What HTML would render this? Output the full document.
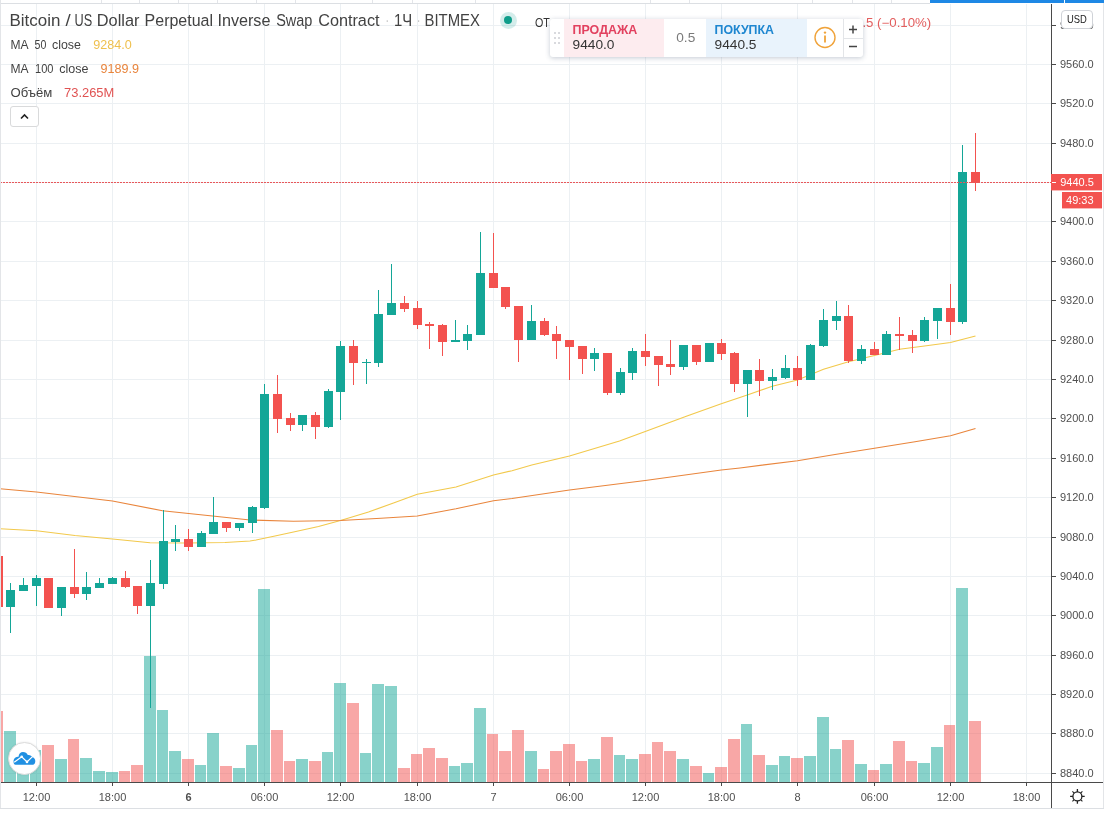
<!DOCTYPE html>
<html lang="ru"><head><meta charset="utf-8"><title>BTCUSD chart</title>
<style>
html,body{margin:0;padding:0;background:#fff;}
body{width:1104px;height:815px;position:relative;overflow:hidden;font-family:"Liberation Sans",sans-serif;color:#4a4a4a;}
svg{position:absolute;left:0;top:0;}
svg text{font-family:"Liberation Sans",sans-serif;}
.abs{position:absolute;white-space:nowrap;}
#topline{left:0;top:3px;width:930px;height:1px;background:#dcdfe3;}
#leftline{left:0;top:0;width:1px;height:809px;background:#e3e5e8;}
#rightline{left:1103px;top:3px;width:1px;height:806px;background:#e3e5e8;}
#bottomline{left:0;top:808px;width:1104px;height:1px;background:#dcdfe3;}
.sep{top:0;width:1px;height:3px;background:#e3e5e9;}
#blue1{left:930px;top:0;width:134px;height:3px;background:#1e88e5;}
#blue2{left:1065px;top:0;width:39px;height:3px;background:#1e88e5;}
#collapse{left:10px;top:106px;width:27px;height:19px;border:1px solid #d9dadb;border-radius:3px;background:#fff;}
#usd{left:1061px;top:10px;width:29.5px;height:16.5px;border:1px solid #d0d3d8;border-radius:4px;background:#fff;}
#dot{left:499.5px;top:11.5px;width:17px;height:17px;border-radius:50%;background:rgba(38,166,154,0.2);}
#dot i{position:absolute;left:4.5px;top:4.5px;width:8px;height:8px;border-radius:50%;background:#0f9d8a;}
#panel{left:550px;top:18.5px;width:313px;height:38px;background:#fff;border-radius:3px;box-shadow:0 1px 5px rgba(60,80,110,0.3);overflow:hidden;}
#sell{left:14px;top:0;width:100px;height:38px;background:#fdecef;}
#buy{left:156px;top:0;width:101px;height:38px;background:#e9f3fc;}
#vsep{left:293px;top:0;width:1px;height:38px;background:#e3e5e8;}
#hsep{left:293px;top:19px;width:20px;height:1px;background:#e3e5e8;}
#logo{left:8px;top:742px;width:31px;height:31px;border-radius:50%;background:#fff;border:1px solid #dcdcdc;box-shadow:0 0 2px rgba(0,0,0,0.1);}
</style></head><body>
<svg id="chart" width="1104" height="815" viewBox="0 0 1104 815" shape-rendering="crispEdges">
<g fill="#ecf0f3">
<rect x="0" y="25" width="1051" height="1"/>
<rect x="0" y="64" width="1051" height="1"/>
<rect x="0" y="103" width="1051" height="1"/>
<rect x="0" y="143" width="1051" height="1"/>
<rect x="0" y="182" width="1051" height="1"/>
<rect x="0" y="221" width="1051" height="1"/>
<rect x="0" y="261" width="1051" height="1"/>
<rect x="0" y="300" width="1051" height="1"/>
<rect x="0" y="340" width="1051" height="1"/>
<rect x="0" y="379" width="1051" height="1"/>
<rect x="0" y="418" width="1051" height="1"/>
<rect x="0" y="458" width="1051" height="1"/>
<rect x="0" y="497" width="1051" height="1"/>
<rect x="0" y="537" width="1051" height="1"/>
<rect x="0" y="576" width="1051" height="1"/>
<rect x="0" y="615" width="1051" height="1"/>
<rect x="0" y="655" width="1051" height="1"/>
<rect x="0" y="694" width="1051" height="1"/>
<rect x="0" y="733" width="1051" height="1"/>
<rect x="0" y="773" width="1051" height="1"/>
<rect x="36" y="4" width="1" height="778"/>
<rect x="112" y="4" width="1" height="778"/>
<rect x="188" y="4" width="1" height="778"/>
<rect x="264" y="4" width="1" height="778"/>
<rect x="340" y="4" width="1" height="778"/>
<rect x="417" y="4" width="1" height="778"/>
<rect x="493" y="4" width="1" height="778"/>
<rect x="569" y="4" width="1" height="778"/>
<rect x="645" y="4" width="1" height="778"/>
<rect x="721" y="4" width="1" height="778"/>
<rect x="797" y="4" width="1" height="778"/>
<rect x="874" y="4" width="1" height="778"/>
<rect x="950" y="4" width="1" height="778"/>
<rect x="1026" y="4" width="1" height="778"/>
</g>
<g opacity="0.5">
<rect x="0" y="711" width="3" height="71" fill="#f3524f"/>
<rect x="4" y="731" width="12" height="51" fill="#14a697"/>
<rect x="17" y="755" width="12" height="27" fill="#14a697"/>
<rect x="30" y="750" width="11" height="32" fill="#14a697"/>
<rect x="42" y="745" width="12" height="37" fill="#f3524f"/>
<rect x="55" y="759" width="12" height="23" fill="#14a697"/>
<rect x="68" y="739" width="11" height="43" fill="#f3524f"/>
<rect x="80" y="758" width="12" height="24" fill="#14a697"/>
<rect x="93" y="771" width="12" height="11" fill="#14a697"/>
<rect x="106" y="772" width="12" height="10" fill="#14a697"/>
<rect x="119" y="771" width="11" height="11" fill="#f3524f"/>
<rect x="131" y="765" width="12" height="17" fill="#f3524f"/>
<rect x="144" y="656" width="12" height="126" fill="#14a697"/>
<rect x="157" y="710" width="11" height="72" fill="#14a697"/>
<rect x="169" y="751" width="12" height="31" fill="#14a697"/>
<rect x="182" y="759" width="12" height="23" fill="#f3524f"/>
<rect x="195" y="765" width="11" height="17" fill="#14a697"/>
<rect x="207" y="733" width="12" height="49" fill="#14a697"/>
<rect x="220" y="766" width="12" height="16" fill="#f3524f"/>
<rect x="233" y="768" width="12" height="14" fill="#14a697"/>
<rect x="246" y="745" width="11" height="37" fill="#14a697"/>
<rect x="258" y="589" width="12" height="193" fill="#14a697"/>
<rect x="271" y="730" width="12" height="52" fill="#f3524f"/>
<rect x="284" y="761" width="11" height="21" fill="#f3524f"/>
<rect x="296" y="759" width="12" height="23" fill="#14a697"/>
<rect x="309" y="761" width="12" height="21" fill="#f3524f"/>
<rect x="322" y="752" width="11" height="30" fill="#14a697"/>
<rect x="334" y="683" width="12" height="99" fill="#14a697"/>
<rect x="347" y="703" width="12" height="79" fill="#f3524f"/>
<rect x="360" y="753" width="11" height="29" fill="#14a697"/>
<rect x="372" y="684" width="12" height="98" fill="#14a697"/>
<rect x="385" y="686" width="12" height="96" fill="#14a697"/>
<rect x="398" y="768" width="12" height="14" fill="#f3524f"/>
<rect x="411" y="754" width="11" height="28" fill="#f3524f"/>
<rect x="423" y="748" width="12" height="34" fill="#f3524f"/>
<rect x="436" y="758" width="12" height="24" fill="#f3524f"/>
<rect x="449" y="766" width="11" height="16" fill="#14a697"/>
<rect x="461" y="763" width="12" height="19" fill="#14a697"/>
<rect x="474" y="708" width="12" height="74" fill="#14a697"/>
<rect x="487" y="734" width="11" height="48" fill="#f3524f"/>
<rect x="499" y="751" width="12" height="31" fill="#f3524f"/>
<rect x="512" y="730" width="12" height="52" fill="#f3524f"/>
<rect x="525" y="751" width="12" height="31" fill="#14a697"/>
<rect x="538" y="769" width="11" height="13" fill="#f3524f"/>
<rect x="550" y="751" width="12" height="31" fill="#f3524f"/>
<rect x="563" y="744" width="12" height="38" fill="#f3524f"/>
<rect x="576" y="761" width="11" height="21" fill="#f3524f"/>
<rect x="588" y="759" width="12" height="23" fill="#14a697"/>
<rect x="601" y="737" width="12" height="45" fill="#f3524f"/>
<rect x="614" y="755" width="11" height="27" fill="#14a697"/>
<rect x="626" y="759" width="12" height="23" fill="#14a697"/>
<rect x="639" y="754" width="12" height="28" fill="#f3524f"/>
<rect x="652" y="742" width="11" height="40" fill="#f3524f"/>
<rect x="664" y="751" width="12" height="31" fill="#f3524f"/>
<rect x="677" y="759" width="12" height="23" fill="#14a697"/>
<rect x="690" y="766" width="12" height="16" fill="#f3524f"/>
<rect x="703" y="773" width="11" height="9" fill="#14a697"/>
<rect x="715" y="767" width="12" height="15" fill="#f3524f"/>
<rect x="728" y="739" width="12" height="43" fill="#f3524f"/>
<rect x="741" y="724" width="11" height="58" fill="#14a697"/>
<rect x="753" y="755" width="12" height="27" fill="#f3524f"/>
<rect x="766" y="765" width="12" height="17" fill="#14a697"/>
<rect x="779" y="756" width="11" height="26" fill="#14a697"/>
<rect x="791" y="758" width="12" height="24" fill="#f3524f"/>
<rect x="804" y="756" width="12" height="26" fill="#14a697"/>
<rect x="817" y="717" width="12" height="65" fill="#14a697"/>
<rect x="830" y="749" width="11" height="33" fill="#14a697"/>
<rect x="842" y="740" width="12" height="42" fill="#f3524f"/>
<rect x="855" y="764" width="12" height="18" fill="#14a697"/>
<rect x="868" y="770" width="11" height="12" fill="#f3524f"/>
<rect x="880" y="764" width="12" height="18" fill="#14a697"/>
<rect x="893" y="741" width="12" height="41" fill="#f3524f"/>
<rect x="906" y="761" width="11" height="21" fill="#f3524f"/>
<rect x="918" y="763" width="12" height="19" fill="#14a697"/>
<rect x="931" y="747" width="12" height="35" fill="#14a697"/>
<rect x="944" y="725" width="11" height="57" fill="#f3524f"/>
<rect x="956" y="588" width="12" height="194" fill="#14a697"/>
<rect x="969" y="721" width="12" height="61" fill="#f3524f"/>
</g>
<path d="M0,528.75 L36.5,530.75 L75,535.5 L112.5,539 L150,542.75 L187.5,543 L225,542.5 L250,541 L256,540 L275,536 L293.5,532 L318.5,526.5 L340.5,520.5 L368.5,512 L393.5,503 L417.25,494.25 L456,487 L493.5,475 L512,470.75 L531.75,465 L569.5,456 L619.5,441 L645.25,431.5 L687,416 L721.25,403.75 L747.25,395 L772.25,386.25 L797.5,380 L823.5,369.25 L848.5,361.75 L874.5,355.5 L899.5,349.25 L924.5,346 L950.5,342.5 L975.5,336" fill="none" stroke="#f2c94c" stroke-width="1.2" shape-rendering="auto"/>
<path d="M0,488.75 L36.5,492 L112.5,501 L162.5,510.75 L212.5,516 L250,520 L293.5,521.25 L340.5,520.5 L381,518.25 L417.25,516 L456,508.75 L493.5,500.75 L512,498.5 L569.5,490 L645.25,480.5 L721.25,470 L740,468 L797.5,460.75 L835,454.5 L874.5,448.25 L915,441.75 L950.5,435.75 L975.5,428.5" fill="none" stroke="#e9853c" stroke-width="1.2" shape-rendering="auto"/>
<rect x="-2" y="556" width="1" height="51" fill="#f3524f"/>
<rect x="0" y="556" width="3" height="51" fill="#f3524f"/>
<rect x="10" y="583" width="1" height="50" fill="#14a697"/>
<rect x="6" y="590" width="9" height="17" fill="#14a697"/>
<rect x="23" y="578" width="1" height="13" fill="#14a697"/>
<rect x="19" y="585" width="9" height="6" fill="#14a697"/>
<rect x="36" y="575" width="1" height="31" fill="#14a697"/>
<rect x="32" y="578" width="9" height="8" fill="#14a697"/>
<rect x="48" y="578" width="1" height="30" fill="#f3524f"/>
<rect x="44" y="578" width="9" height="30" fill="#f3524f"/>
<rect x="61" y="587" width="1" height="29" fill="#14a697"/>
<rect x="57" y="587" width="9" height="21" fill="#14a697"/>
<rect x="74" y="549" width="1" height="49" fill="#f3524f"/>
<rect x="70" y="587" width="9" height="7" fill="#f3524f"/>
<rect x="86" y="572" width="1" height="28" fill="#14a697"/>
<rect x="82" y="587" width="9" height="7" fill="#14a697"/>
<rect x="99" y="578" width="1" height="10" fill="#14a697"/>
<rect x="95" y="583" width="9" height="5" fill="#14a697"/>
<rect x="112" y="577" width="1" height="7" fill="#14a697"/>
<rect x="108" y="578" width="9" height="6" fill="#14a697"/>
<rect x="125" y="571" width="1" height="17" fill="#f3524f"/>
<rect x="121" y="578" width="9" height="9" fill="#f3524f"/>
<rect x="137" y="586" width="1" height="28" fill="#f3524f"/>
<rect x="133" y="586" width="9" height="20" fill="#f3524f"/>
<rect x="150" y="560" width="1" height="148" fill="#14a697"/>
<rect x="146" y="583" width="9" height="23" fill="#14a697"/>
<rect x="163" y="510" width="1" height="79" fill="#14a697"/>
<rect x="159" y="541" width="9" height="43" fill="#14a697"/>
<rect x="175" y="525" width="1" height="26" fill="#14a697"/>
<rect x="171" y="539" width="9" height="3" fill="#14a697"/>
<rect x="188" y="529" width="1" height="22" fill="#f3524f"/>
<rect x="184" y="539" width="9" height="8" fill="#f3524f"/>
<rect x="201" y="531" width="1" height="16" fill="#14a697"/>
<rect x="197" y="533" width="9" height="14" fill="#14a697"/>
<rect x="213" y="497" width="1" height="37" fill="#14a697"/>
<rect x="209" y="522" width="9" height="12" fill="#14a697"/>
<rect x="226" y="522" width="1" height="10" fill="#f3524f"/>
<rect x="222" y="522" width="9" height="6" fill="#f3524f"/>
<rect x="239" y="523" width="1" height="8" fill="#14a697"/>
<rect x="235" y="523" width="9" height="5" fill="#14a697"/>
<rect x="252" y="506" width="1" height="27" fill="#14a697"/>
<rect x="248" y="507" width="9" height="16" fill="#14a697"/>
<rect x="264" y="384" width="1" height="125" fill="#14a697"/>
<rect x="260" y="394" width="9" height="114" fill="#14a697"/>
<rect x="277" y="375" width="1" height="58" fill="#f3524f"/>
<rect x="273" y="394" width="9" height="25" fill="#f3524f"/>
<rect x="290" y="413" width="1" height="18" fill="#f3524f"/>
<rect x="286" y="418" width="9" height="7" fill="#f3524f"/>
<rect x="302" y="415" width="1" height="16" fill="#14a697"/>
<rect x="298" y="415" width="9" height="10" fill="#14a697"/>
<rect x="315" y="412" width="1" height="27" fill="#f3524f"/>
<rect x="311" y="415" width="9" height="12" fill="#f3524f"/>
<rect x="328" y="389" width="1" height="39" fill="#14a697"/>
<rect x="324" y="391" width="9" height="36" fill="#14a697"/>
<rect x="340" y="341" width="1" height="79" fill="#14a697"/>
<rect x="336" y="346" width="9" height="46" fill="#14a697"/>
<rect x="353" y="340" width="1" height="45" fill="#f3524f"/>
<rect x="349" y="346" width="9" height="17" fill="#f3524f"/>
<rect x="366" y="359" width="1" height="25" fill="#14a697"/>
<rect x="362" y="362" width="9" height="1" fill="#14a697"/>
<rect x="378" y="290" width="1" height="77" fill="#14a697"/>
<rect x="374" y="314" width="9" height="49" fill="#14a697"/>
<rect x="391" y="264" width="1" height="51" fill="#14a697"/>
<rect x="387" y="303" width="9" height="12" fill="#14a697"/>
<rect x="404" y="296" width="1" height="16" fill="#f3524f"/>
<rect x="400" y="303" width="9" height="6" fill="#f3524f"/>
<rect x="417" y="301" width="1" height="28" fill="#f3524f"/>
<rect x="413" y="308" width="9" height="17" fill="#f3524f"/>
<rect x="429" y="322" width="1" height="27" fill="#f3524f"/>
<rect x="425" y="324" width="9" height="2" fill="#f3524f"/>
<rect x="442" y="324" width="1" height="32" fill="#f3524f"/>
<rect x="438" y="325" width="9" height="17" fill="#f3524f"/>
<rect x="455" y="320" width="1" height="22" fill="#14a697"/>
<rect x="451" y="340" width="9" height="2" fill="#14a697"/>
<rect x="467" y="325" width="1" height="25" fill="#14a697"/>
<rect x="463" y="334" width="9" height="7" fill="#14a697"/>
<rect x="480" y="232" width="1" height="103" fill="#14a697"/>
<rect x="476" y="273" width="9" height="62" fill="#14a697"/>
<rect x="493" y="233" width="1" height="55" fill="#f3524f"/>
<rect x="489" y="273" width="9" height="15" fill="#f3524f"/>
<rect x="505" y="287" width="1" height="22" fill="#f3524f"/>
<rect x="501" y="287" width="9" height="20" fill="#f3524f"/>
<rect x="518" y="306" width="1" height="56" fill="#f3524f"/>
<rect x="514" y="306" width="9" height="34" fill="#f3524f"/>
<rect x="531" y="305" width="1" height="35" fill="#14a697"/>
<rect x="527" y="321" width="9" height="19" fill="#14a697"/>
<rect x="544" y="318" width="1" height="18" fill="#f3524f"/>
<rect x="540" y="321" width="9" height="14" fill="#f3524f"/>
<rect x="556" y="326" width="1" height="33" fill="#f3524f"/>
<rect x="552" y="334" width="9" height="7" fill="#f3524f"/>
<rect x="569" y="340" width="1" height="40" fill="#f3524f"/>
<rect x="565" y="340" width="9" height="7" fill="#f3524f"/>
<rect x="582" y="346" width="1" height="28" fill="#f3524f"/>
<rect x="578" y="346" width="9" height="13" fill="#f3524f"/>
<rect x="594" y="348" width="1" height="23" fill="#14a697"/>
<rect x="590" y="353" width="9" height="6" fill="#14a697"/>
<rect x="607" y="353" width="1" height="42" fill="#f3524f"/>
<rect x="603" y="353" width="9" height="40" fill="#f3524f"/>
<rect x="620" y="368" width="1" height="27" fill="#14a697"/>
<rect x="616" y="372" width="9" height="21" fill="#14a697"/>
<rect x="632" y="348" width="1" height="32" fill="#14a697"/>
<rect x="628" y="351" width="9" height="22" fill="#14a697"/>
<rect x="645" y="334" width="1" height="32" fill="#f3524f"/>
<rect x="641" y="351" width="9" height="6" fill="#f3524f"/>
<rect x="658" y="356" width="1" height="30" fill="#f3524f"/>
<rect x="654" y="356" width="9" height="9" fill="#f3524f"/>
<rect x="670" y="340" width="1" height="35" fill="#f3524f"/>
<rect x="666" y="364" width="9" height="3" fill="#f3524f"/>
<rect x="683" y="345" width="1" height="25" fill="#14a697"/>
<rect x="679" y="345" width="9" height="22" fill="#14a697"/>
<rect x="696" y="345" width="1" height="20" fill="#f3524f"/>
<rect x="692" y="345" width="9" height="17" fill="#f3524f"/>
<rect x="709" y="343" width="1" height="19" fill="#14a697"/>
<rect x="705" y="343" width="9" height="19" fill="#14a697"/>
<rect x="721" y="339" width="1" height="21" fill="#f3524f"/>
<rect x="717" y="343" width="9" height="11" fill="#f3524f"/>
<rect x="734" y="352" width="1" height="40" fill="#f3524f"/>
<rect x="730" y="353" width="9" height="31" fill="#f3524f"/>
<rect x="747" y="370" width="1" height="47" fill="#14a697"/>
<rect x="743" y="370" width="9" height="14" fill="#14a697"/>
<rect x="759" y="359" width="1" height="37" fill="#f3524f"/>
<rect x="755" y="370" width="9" height="11" fill="#f3524f"/>
<rect x="772" y="369" width="1" height="21" fill="#14a697"/>
<rect x="768" y="377" width="9" height="4" fill="#14a697"/>
<rect x="785" y="355" width="1" height="24" fill="#14a697"/>
<rect x="781" y="368" width="9" height="10" fill="#14a697"/>
<rect x="797" y="356" width="1" height="30" fill="#f3524f"/>
<rect x="793" y="368" width="9" height="12" fill="#f3524f"/>
<rect x="810" y="344" width="1" height="36" fill="#14a697"/>
<rect x="806" y="345" width="9" height="35" fill="#14a697"/>
<rect x="823" y="309" width="1" height="38" fill="#14a697"/>
<rect x="819" y="320" width="9" height="26" fill="#14a697"/>
<rect x="836" y="301" width="1" height="29" fill="#14a697"/>
<rect x="832" y="316" width="9" height="5" fill="#14a697"/>
<rect x="848" y="305" width="1" height="58" fill="#f3524f"/>
<rect x="844" y="316" width="9" height="45" fill="#f3524f"/>
<rect x="861" y="345" width="1" height="19" fill="#14a697"/>
<rect x="857" y="349" width="9" height="12" fill="#14a697"/>
<rect x="874" y="342" width="1" height="13" fill="#f3524f"/>
<rect x="870" y="349" width="9" height="6" fill="#f3524f"/>
<rect x="886" y="331" width="1" height="24" fill="#14a697"/>
<rect x="882" y="334" width="9" height="21" fill="#14a697"/>
<rect x="899" y="317" width="1" height="33" fill="#f3524f"/>
<rect x="895" y="334" width="9" height="2" fill="#f3524f"/>
<rect x="912" y="330" width="1" height="23" fill="#f3524f"/>
<rect x="908" y="335" width="9" height="6" fill="#f3524f"/>
<rect x="924" y="317" width="1" height="25" fill="#14a697"/>
<rect x="920" y="320" width="9" height="21" fill="#14a697"/>
<rect x="937" y="308" width="1" height="31" fill="#14a697"/>
<rect x="933" y="308" width="9" height="13" fill="#14a697"/>
<rect x="950" y="284" width="1" height="51" fill="#f3524f"/>
<rect x="946" y="308" width="9" height="14" fill="#f3524f"/>
<rect x="962" y="145" width="1" height="179" fill="#14a697"/>
<rect x="958" y="172" width="9" height="150" fill="#14a697"/>
<rect x="975" y="133" width="1" height="58" fill="#f3524f"/>
<rect x="971" y="172" width="9" height="11" fill="#f3524f"/>
<line x1="0" y1="182.5" x2="1051" y2="182.5" stroke="#e8575a" stroke-width="1" stroke-dasharray="2,1"/>
<rect x="1051" y="4" width="1" height="804" fill="#4a4a4a"/>
<rect x="0" y="782" width="1104" height="1" fill="#4a4a4a"/>
<g fill="#4a4a4a">
<rect x="1052" y="25" width="4" height="1"/>
<rect x="1052" y="64" width="4" height="1"/>
<rect x="1052" y="103" width="4" height="1"/>
<rect x="1052" y="143" width="4" height="1"/>
<rect x="1052" y="182" width="4" height="1"/>
<rect x="1052" y="221" width="4" height="1"/>
<rect x="1052" y="261" width="4" height="1"/>
<rect x="1052" y="300" width="4" height="1"/>
<rect x="1052" y="340" width="4" height="1"/>
<rect x="1052" y="379" width="4" height="1"/>
<rect x="1052" y="418" width="4" height="1"/>
<rect x="1052" y="458" width="4" height="1"/>
<rect x="1052" y="497" width="4" height="1"/>
<rect x="1052" y="537" width="4" height="1"/>
<rect x="1052" y="576" width="4" height="1"/>
<rect x="1052" y="615" width="4" height="1"/>
<rect x="1052" y="655" width="4" height="1"/>
<rect x="1052" y="694" width="4" height="1"/>
<rect x="1052" y="733" width="4" height="1"/>
<rect x="1052" y="773" width="4" height="1"/>
<rect x="36" y="782" width="1" height="4"/>
<rect x="112" y="782" width="1" height="4"/>
<rect x="188" y="782" width="1" height="4"/>
<rect x="264" y="782" width="1" height="4"/>
<rect x="340" y="782" width="1" height="4"/>
<rect x="417" y="782" width="1" height="4"/>
<rect x="493" y="782" width="1" height="4"/>
<rect x="569" y="782" width="1" height="4"/>
<rect x="645" y="782" width="1" height="4"/>
<rect x="721" y="782" width="1" height="4"/>
<rect x="797" y="782" width="1" height="4"/>
<rect x="874" y="782" width="1" height="4"/>
<rect x="950" y="782" width="1" height="4"/>
<rect x="1026" y="782" width="1" height="4"/>
</g>
<g font-family="Liberation Sans, sans-serif" font-size="11" fill="#4f4f4f" shape-rendering="auto">
<text x="1060" y="29">9600.0</text>
<text x="1060" y="68">9560.0</text>
<text x="1060" y="107">9520.0</text>
<text x="1060" y="147">9480.0</text>
<text x="1060" y="225">9400.0</text>
<text x="1060" y="265">9360.0</text>
<text x="1060" y="304">9320.0</text>
<text x="1060" y="344">9280.0</text>
<text x="1060" y="383">9240.0</text>
<text x="1060" y="422">9200.0</text>
<text x="1060" y="462">9160.0</text>
<text x="1060" y="501">9120.0</text>
<text x="1060" y="541">9080.0</text>
<text x="1060" y="580">9040.0</text>
<text x="1060" y="619">9000.0</text>
<text x="1060" y="659">8960.0</text>
<text x="1060" y="698">8920.0</text>
<text x="1060" y="737">8880.0</text>
<text x="1060" y="777">8840.0</text>
<text x="36.5" y="801" text-anchor="middle">12:00</text>
<text x="112.5" y="801" text-anchor="middle">18:00</text>
<text x="188.5" y="801" text-anchor="middle" font-weight="bold">6</text>
<text x="264.5" y="801" text-anchor="middle">06:00</text>
<text x="340.5" y="801" text-anchor="middle">12:00</text>
<text x="417.5" y="801" text-anchor="middle">18:00</text>
<text x="493.5" y="801" text-anchor="middle">7</text>
<text x="569.5" y="801" text-anchor="middle">06:00</text>
<text x="645.5" y="801" text-anchor="middle">12:00</text>
<text x="721.5" y="801" text-anchor="middle">18:00</text>
<text x="797.5" y="801" text-anchor="middle">8</text>
<text x="874.5" y="801" text-anchor="middle">06:00</text>
<text x="950.5" y="801" text-anchor="middle">12:00</text>
<text x="1026.5" y="801" text-anchor="middle">18:00</text>
</g>
<rect x="1051" y="174" width="51" height="16.4" fill="#f3524f" shape-rendering="auto"/>
<rect x="1052" y="182" width="4" height="1" fill="#fff"/>
<rect x="1062" y="192" width="40" height="16.4" fill="#f3524f" shape-rendering="auto"/>
<g font-family="Liberation Sans, sans-serif" font-size="11" fill="#fff" shape-rendering="auto">
<text x="1060.2" y="185.8">9440.5</text>
<text x="1079.8" y="203.8" text-anchor="middle">49:33</text>
</g>
</svg>
<div class="abs" id="topline"></div><div class="abs" id="leftline"></div><div class="abs" id="rightline"></div><div class="abs" id="bottomline"></div>
<div class="abs sep" style="left:101px"></div><div class="abs sep" style="left:139px"></div><div class="abs sep" style="left:178px"></div><div class="abs sep" style="left:217px"></div><div class="abs sep" style="left:256px"></div><div class="abs sep" style="left:295px"></div><div class="abs sep" style="left:372px"></div><div class="abs sep" style="left:412px"></div><div class="abs sep" style="left:475px"></div><div class="abs sep" style="left:650px"></div><div class="abs sep" style="left:689px"></div><div class="abs sep" style="left:812px"></div><div class="abs sep" style="left:852px"></div><div class="abs sep" style="left:891px"></div>
<div class="abs" id="blue1"></div><div class="abs" id="blue2"></div>
<div class="abs" id="collapse"><svg width="27" height="19" viewBox="0 0 27 19"><path d="M10 11.5 L13.5 8 L17 11.5" fill="none" stroke="#222" stroke-width="1.6"/></svg></div>
<div class="abs" id="dot"><i></i></div>
<div class="abs" id="usd"></div>
<svg id="txt1" width="1104" height="140" viewBox="0 0 1104 140">
<text x="9.56" y="25.75" font-size="16.3" fill="#424242" textLength="50.84" lengthAdjust="spacingAndGlyphs">Bitcoin</text>
<text x="65.50" y="25.75" font-size="17" fill="#424242" textLength="5.20" lengthAdjust="spacingAndGlyphs">/</text>
<text x="74.62" y="25.75" font-size="16.3" fill="#424242" textLength="17.67" lengthAdjust="spacingAndGlyphs">US</text>
<text x="96.80" y="25.75" font-size="16.3" fill="#424242" textLength="42.62" lengthAdjust="spacingAndGlyphs">Dollar</text>
<text x="144.62" y="25.75" font-size="16.3" fill="#424242" textLength="68.39" lengthAdjust="spacingAndGlyphs">Perpetual</text>
<text x="217.41" y="25.75" font-size="16.3" fill="#424242" textLength="53.05" lengthAdjust="spacingAndGlyphs">Inverse</text>
<text x="276.20" y="25.75" font-size="16.3" fill="#424242" textLength="36.25" lengthAdjust="spacingAndGlyphs">Swap</text>
<text x="318.20" y="25.75" font-size="16.3" fill="#424242" textLength="61.33" lengthAdjust="spacingAndGlyphs">Contract</text>
<text x="385.67" y="25.75" font-size="16.3" fill="#b5b5b5" textLength="2.89" lengthAdjust="spacingAndGlyphs">·</text>
<text x="394.09" y="25.75" font-size="16.3" fill="#424242" textLength="18.19" lengthAdjust="spacingAndGlyphs">1Ч</text>
<text x="417.17" y="25.75" font-size="16.3" fill="#b5b5b5" textLength="2.89" lengthAdjust="spacingAndGlyphs">·</text>
<text x="424.49" y="25.75" font-size="16.3" fill="#424242" textLength="55.39" lengthAdjust="spacingAndGlyphs">BITMEX</text>
<text x="10.50" y="48.8" font-size="12.1" fill="#424242" textLength="18.07" lengthAdjust="spacingAndGlyphs">MA</text>
<text x="34.50" y="48.8" font-size="12.1" fill="#424242" textLength="11.76" lengthAdjust="spacingAndGlyphs">50</text>
<text x="52.00" y="48.8" font-size="12.1" fill="#424242" textLength="28.97" lengthAdjust="spacingAndGlyphs">close</text>
<text x="93.25" y="48.8" font-size="12.1" fill="#efc04e" textLength="38.47" lengthAdjust="spacingAndGlyphs">9284.0</text>
<text x="10.50" y="72.6" font-size="12.1" fill="#424242" textLength="18.07" lengthAdjust="spacingAndGlyphs">MA</text>
<text x="35.00" y="72.6" font-size="12.1" fill="#424242" textLength="18.50" lengthAdjust="spacingAndGlyphs">100</text>
<text x="59.25" y="72.6" font-size="12.1" fill="#424242" textLength="29.22" lengthAdjust="spacingAndGlyphs">close</text>
<text x="100.50" y="72.6" font-size="12.1" fill="#e8843c" textLength="38.47" lengthAdjust="spacingAndGlyphs">9189.9</text>
<text x="10.50" y="96.6" font-size="12.1" fill="#424242" textLength="41.84" lengthAdjust="spacingAndGlyphs">Объём</text>
<text x="64.00" y="96.6" font-size="12.1" fill="#e05353" textLength="50.33" lengthAdjust="spacingAndGlyphs">73.265M</text>
<text x="535.00" y="26.8" font-size="12" fill="#333" textLength="14.90" lengthAdjust="spacingAndGlyphs">ОТ</text>
<text x="862.40" y="27" font-size="12" fill="#e35d5d" textLength="68.85" lengthAdjust="spacingAndGlyphs">.5 (−0.10%)</text>
<text x="1066.90" y="22.75" font-size="10.8" fill="#222" textLength="19.82" lengthAdjust="spacingAndGlyphs">USD</text>
</svg>
<div class="abs" id="panel">
 <div class="abs" id="sell"></div>
 <div class="abs" id="buy"></div>
 <div class="abs" id="vsep"></div><div class="abs" id="hsep"></div>
 <svg id="txt2" style="left:-550px;top:-18.5px" width="1104" height="80" viewBox="0 0 1104 80">
 <g fill="#cdced3"><circle cx="555" cy="33" r="1"/><circle cx="559" cy="33" r="1"/><circle cx="555" cy="38" r="1"/><circle cx="559" cy="38" r="1"/><circle cx="555" cy="43" r="1"/><circle cx="559" cy="43" r="1"/></g>
 <text x="572.50" y="33.75" font-size="12.2" font-weight="bold" fill="#e2415f" textLength="64.80" lengthAdjust="spacingAndGlyphs">ПРОДАЖА</text>
<text x="572.50" y="49.25" font-size="13" fill="#333" textLength="41.99" lengthAdjust="spacingAndGlyphs">9440.0</text>
<text x="676.25" y="42" font-size="13" fill="#7a7a7a" textLength="18.99" lengthAdjust="spacingAndGlyphs">0.5</text>
<text x="714.50" y="33.75" font-size="12.2" font-weight="bold" fill="#1e86d0" textLength="59.55" lengthAdjust="spacingAndGlyphs">ПОКУПКА</text>
<text x="714.50" y="49.25" font-size="13" fill="#333" textLength="41.99" lengthAdjust="spacingAndGlyphs">9440.5</text>
 <circle cx="825" cy="37.5" r="10" fill="none" stroke="#f0a33a" stroke-width="1.4"/><rect x="824.1" y="35.5" width="1.8" height="7" fill="#f0a33a"/><circle cx="825" cy="32.6" r="1.2" fill="#f0a33a"/>
 <path d="M849 29.5h8M853 25.5v8M849 46.5h8" stroke="#444" stroke-width="1.5" fill="none"/>
 </svg>
</div>
<div class="abs" id="logo"><svg width="31" height="31" viewBox="0 0 31 31"><path d="M6.5 21.7 C4.3 21.7 4.1 18 5 16.2 C5.7 14.4 7.6 13.4 9.5 13.7 C9.8 11 11.6 9 14 9 C16.3 9 18 10.3 18.8 12 C20.6 11.6 22.7 12.5 23.6 14.3 C25.6 14.9 26.6 17 26.2 19 C25.9 20.8 25 21.7 24 21.7 Z" fill="#2090e2"/><path d="M5.2 19.3 L12.7 13.8 L18 18.9 L23.5 13.6" fill="none" stroke="#fff" stroke-width="1.25"/><circle cx="12.7" cy="13.8" r="1.3" fill="#fff"/><circle cx="18" cy="18.9" r="1.3" fill="#fff"/></svg></div>
<svg style="left:1066px;top:785px" width="23" height="23" viewBox="0 0 23 23"><circle cx="11.4" cy="11.4" r="4.5" fill="none" stroke="#222" stroke-width="1.3"/><g stroke="#222" stroke-width="1.3"><path d="M11.4 4.1v2.8M11.4 15.9v2.8M4.1 11.4h2.8M15.9 11.4h2.8"/></g><g stroke="#222" stroke-width="1.1"><path d="M6.4 6.4l1.8 1.8M14.6 14.6l1.8 1.8M6.4 16.4l1.8-1.8M14.6 8.2l1.8-1.8"/></g></svg>
</body></html>
